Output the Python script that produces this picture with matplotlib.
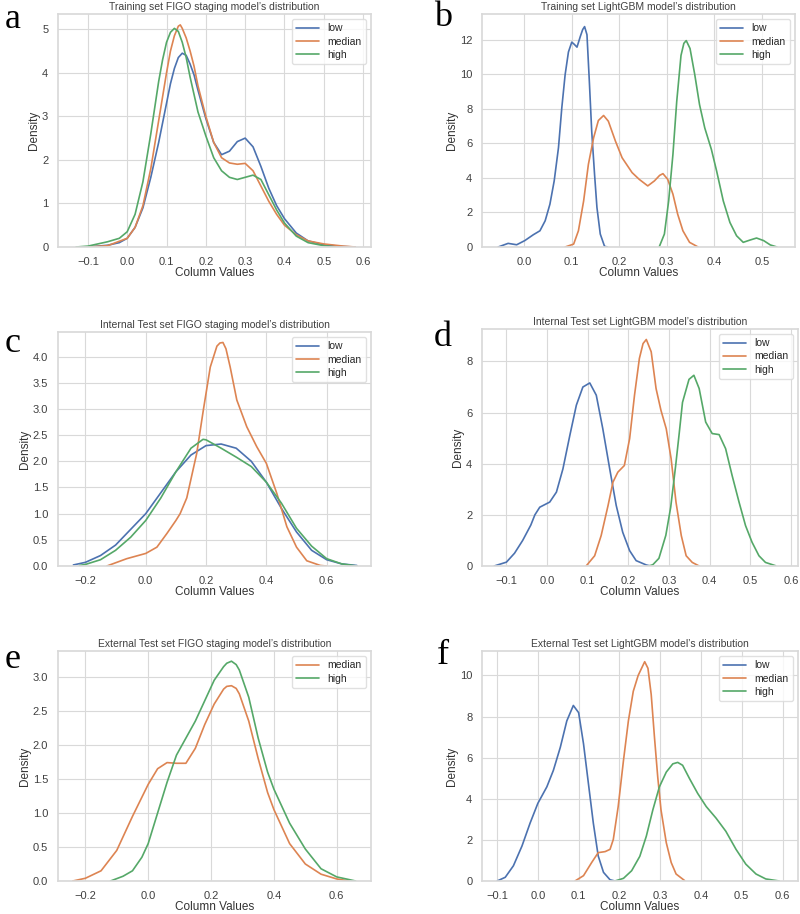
import matplotlib
matplotlib.use("Agg")
import matplotlib.pyplot as plt
import seaborn as sns

sns.set_theme(style="whitegrid", palette="deep")
plt.rcParams["font.family"] = ["Liberation Sans", "DejaVu Sans"]

BLUE, ORANGE, GREEN = sns.color_palette("deep")[:3]

# ---- a: Training set FIGO staging ----
A_LOW_X = [-0.10, -0.05, -0.02, 0.00, 0.02, 0.04, 0.06, 0.08, 0.10, 0.11, 0.12, 0.13, 0.14, 0.15,
           0.16, 0.17, 0.18, 0.20, 0.22, 0.24, 0.26, 0.28, 0.30, 0.32, 0.34, 0.36, 0.38, 0.40,
           0.43, 0.46, 0.50, 0.55, 0.58]
A_LOW_Y = [0.0, 0.04, 0.1, 0.2, 0.45, 0.9, 1.6, 2.4, 3.3, 3.75, 4.1, 4.35, 4.45, 4.4,
           4.2, 3.95, 3.6, 2.95, 2.4, 2.12, 2.2, 2.42, 2.5, 2.3, 1.85, 1.35, 0.95, 0.65,
           0.32, 0.14, 0.05, 0.01, 0.0]
A_MED_X = [-0.10, -0.05, 0.00, 0.02, 0.04, 0.06, 0.08, 0.10, 0.11, 0.12, 0.13, 0.135, 0.14, 0.15,
           0.16, 0.17, 0.18, 0.20, 0.22, 0.24, 0.26, 0.28, 0.30, 0.32, 0.34, 0.36, 0.38, 0.40,
           0.43, 0.46, 0.50, 0.55, 0.58]
A_MED_Y = [0.0, 0.03, 0.2, 0.45, 0.95, 1.8, 2.9, 4.0, 4.5, 4.85, 5.07, 5.1, 5.02, 4.8,
           4.5, 4.15, 3.7, 3.0, 2.4, 2.05, 1.93, 1.9, 1.92, 1.75, 1.4, 1.05, 0.75, 0.5,
           0.28, 0.14, 0.07, 0.02, 0.0]
A_HIGH_X = [-0.13, -0.10, -0.05, -0.02, 0.00, 0.02, 0.04, 0.06, 0.08, 0.09, 0.10, 0.11, 0.12, 0.13,
            0.14, 0.15, 0.16, 0.17, 0.18, 0.20, 0.22, 0.24, 0.26, 0.28, 0.30, 0.32, 0.34, 0.36,
            0.38, 0.40, 0.43, 0.46, 0.50, 0.53]
A_HIGH_Y = [0.0, 0.02, 0.12, 0.2, 0.35, 0.75, 1.5, 2.6, 3.8, 4.3, 4.7, 4.93, 5.02, 4.95,
            4.7, 4.35, 3.9, 3.5, 3.1, 2.55, 2.05, 1.75, 1.6, 1.55, 1.6, 1.65, 1.55, 1.2,
            0.85, 0.55, 0.25, 0.1, 0.03, 0.0]

# ---- b: Training set LightGBM ----
B_LOW_X = [-0.055, -0.034, -0.016, 0.001, 0.019, 0.033, 0.044, 0.054, 0.063, 0.072, 0.079, 0.086,
           0.093, 0.10, 0.105, 0.111, 0.118, 0.123, 0.127, 0.132, 0.137, 0.142, 0.148, 0.153,
           0.16, 0.169, 0.175]
B_LOW_Y = [0.0, 0.21, 0.13, 0.37, 0.71, 0.94, 1.52, 2.48, 3.83, 5.75, 8.06, 9.98,
           11.3, 11.87, 11.75, 11.58, 12.2, 12.6, 12.77, 12.3, 9.6, 6.7, 4.2, 2.29,
           0.75, 0.04, 0.0]
B_MED_X = [0.086, 0.104, 0.114, 0.125, 0.135, 0.146, 0.156, 0.167, 0.177, 0.192, 0.206, 0.227,
           0.242, 0.26, 0.274, 0.285, 0.292, 0.302, 0.313, 0.323, 0.334, 0.348, 0.366]
B_MED_Y = [0.0, 0.17, 0.94, 2.67, 4.79, 6.33, 7.33, 7.62, 7.29, 6.13, 5.17, 4.31,
           3.92, 3.54, 3.83, 4.15, 4.25, 3.92, 3.06, 1.9, 0.94, 0.27, 0.0]
B_HIGH_X = [0.284, 0.295, 0.304, 0.313, 0.321, 0.33, 0.336, 0.341, 0.349, 0.359, 0.369, 0.38,
            0.394, 0.405, 0.419, 0.433, 0.447, 0.461, 0.475, 0.489, 0.504, 0.518, 0.532]
B_HIGH_Y = [0.0, 0.75, 2.67, 5.37, 8.44, 11.1, 11.8, 11.96, 11.5, 9.98, 8.25, 6.9,
            5.65, 4.4, 2.67, 1.42, 0.65, 0.27, 0.4, 0.52, 0.37, 0.12, 0.0]

# ---- c: Internal Test set FIGO staging ----
C_LOW_X = [-0.24, -0.20, -0.15, -0.10, -0.05, 0.00, 0.05, 0.10, 0.15, 0.20, 0.25, 0.30, 0.35,
           0.40, 0.45, 0.50, 0.55, 0.60, 0.65, 0.70]
C_LOW_Y = [0.02, 0.07, 0.2, 0.4, 0.7, 1.0, 1.4, 1.8, 2.12, 2.3, 2.33, 2.25, 2.0,
           1.6, 1.1, 0.65, 0.3, 0.12, 0.04, 0.01]
C_MED_X = [-0.129, -0.063, 0.0, 0.037, 0.07, 0.10, 0.114, 0.136, 0.169, 0.191, 0.214, 0.236, 0.246,
           0.256, 0.266, 0.28, 0.302, 0.335, 0.368, 0.40, 0.435, 0.468, 0.50, 0.534, 0.579, 0.60]
C_MED_Y = [0.0, 0.14, 0.24, 0.36, 0.62, 0.87, 1.0, 1.3, 2.15, 2.98, 3.8, 4.2, 4.26,
           4.27, 4.15, 3.8, 3.17, 2.66, 2.28, 1.96, 1.38, 0.75, 0.36, 0.1, 0.01, 0.0]
C_HIGH_X = [-0.22, -0.20, -0.15, -0.10, -0.05, 0.00, 0.05, 0.10, 0.15, 0.19, 0.20, 0.25, 0.30,
            0.35, 0.40, 0.45, 0.50, 0.55, 0.60, 0.65, 0.70]
C_HIGH_Y = [0.01, 0.03, 0.12, 0.3, 0.55, 0.87, 1.3, 1.8, 2.25, 2.42, 2.41, 2.25, 2.08,
            1.9, 1.6, 1.2, 0.72, 0.38, 0.14, 0.04, 0.0]

# ---- d: Internal Test set LightGBM ----
D_LOW_X = [-0.13, -0.10, -0.08, -0.06, -0.04, -0.03, -0.018, 0.0065, 0.023, 0.039, 0.056, 0.072,
           0.088, 0.105, 0.121, 0.137, 0.154, 0.17, 0.186, 0.203, 0.219, 0.244, 0.255]
D_LOW_Y = [0.0, 0.15, 0.5, 1.0, 1.6, 2.0, 2.3, 2.5, 2.89, 3.8, 5.11, 6.29,
           7.0, 7.16, 6.68, 5.37, 3.8, 2.37, 1.32, 0.6, 0.21, 0.04, 0.0]
D_MED_X = [0.096, 0.117, 0.133, 0.15, 0.162, 0.174, 0.19, 0.203, 0.215, 0.227, 0.236, 0.244,
           0.256, 0.268, 0.28, 0.293, 0.305, 0.317, 0.33, 0.342, 0.357, 0.374]
D_MED_Y = [0.0, 0.4, 1.19, 2.37, 3.28, 3.67, 3.93, 4.98, 6.68, 8.12, 8.7, 8.86,
           8.38, 6.94, 6.09, 5.37, 4.2, 2.5, 1.19, 0.4, 0.14, 0.0]
D_HIGH_X = [0.25, 0.26, 0.275, 0.292, 0.304, 0.316, 0.325, 0.333, 0.349, 0.361, 0.374, 0.39,
            0.406, 0.423, 0.439, 0.455, 0.472, 0.488, 0.504, 0.521, 0.537, 0.562]
D_HIGH_Y = [0.0, 0.05, 0.3, 1.2, 2.3, 3.9, 5.2, 6.4, 7.3, 7.46, 6.94, 5.63,
            5.18, 5.14, 4.59, 3.54, 2.5, 1.58, 0.93, 0.4, 0.14, 0.01]

# ---- e: External Test set FIGO staging ----
E_MED_X = [-0.24, -0.20, -0.15, -0.10, -0.05, 0.00, 0.03, 0.06, 0.09, 0.12, 0.15, 0.18, 0.21,
           0.24, 0.25, 0.265, 0.28, 0.29, 0.32, 0.35, 0.38, 0.40, 0.45, 0.50, 0.55, 0.60, 0.64]
E_MED_Y = [0.0, 0.04, 0.15, 0.45, 0.95, 1.42, 1.65, 1.74, 1.73, 1.73, 1.95, 2.3, 2.6,
           2.82, 2.86, 2.87, 2.83, 2.75, 2.35, 1.8, 1.3, 1.05, 0.55, 0.25, 0.1, 0.03, 0.0]
E_HIGH_X = [-0.12, -0.08, -0.05, -0.02, 0.00, 0.03, 0.06, 0.09, 0.12, 0.15, 0.18, 0.21, 0.24,
            0.25, 0.265, 0.28, 0.29, 0.32, 0.35, 0.38, 0.40, 0.45, 0.50, 0.55, 0.60, 0.66]
E_HIGH_Y = [0.0, 0.07, 0.15, 0.35, 0.55, 1.0, 1.45, 1.85, 2.1, 2.35, 2.65, 2.95, 3.15,
            3.2, 3.23, 3.18, 3.1, 2.7, 2.1, 1.6, 1.35, 0.85, 0.47, 0.18, 0.06, 0.0]

# ---- f: External Test set LightGBM ----
F_LOW_X = [-0.10, -0.08, -0.06, -0.039, -0.019, 0.0, 0.022, 0.038, 0.055, 0.071, 0.087, 0.1,
           0.112, 0.124, 0.136, 0.148, 0.161, 0.177, 0.189]
F_LOW_Y = [0.0, 0.18, 0.74, 1.7, 2.82, 3.78, 4.58, 5.38, 6.5, 7.79, 8.54, 8.19,
           6.67, 4.74, 2.82, 1.22, 0.42, 0.06, 0.0]
F_MED_X = [0.091, 0.112, 0.132, 0.148, 0.165, 0.177, 0.185, 0.197, 0.21, 0.222, 0.234, 0.246,
           0.262, 0.27, 0.278, 0.286, 0.294, 0.302, 0.315, 0.327, 0.339, 0.36]
F_MED_Y = [0.0, 0.26, 0.9, 1.38, 1.43, 1.54, 2.02, 3.62, 5.87, 7.79, 9.23, 10.0,
           10.67, 10.35, 9.07, 6.99, 5.06, 3.46, 1.86, 0.9, 0.34, 0.02]
F_HIGH_X = [0.189, 0.21, 0.23, 0.25, 0.266, 0.282, 0.298, 0.315, 0.331, 0.343, 0.355, 0.372,
            0.392, 0.413, 0.437, 0.461, 0.486, 0.51, 0.535, 0.559, 0.592]
F_HIGH_Y = [0.0, 0.13, 0.5, 1.2, 2.18, 3.46, 4.58, 5.3, 5.7, 5.77, 5.63, 4.98,
            4.26, 3.62, 3.06, 2.42, 1.54, 0.82, 0.34, 0.1, 0.0]

TITLES = [
    "Training set FIGO staging model\u2019s distribution",
    "Training set LightGBM model\u2019s distribution",
    "Internal Test set FIGO staging model\u2019s distribution",
    "Internal Test set LightGBM model\u2019s distribution",
    "External Test set FIGO staging model\u2019s distribution",
    "External Test set LightGBM model\u2019s distribution",
]
LETTERS = ["a", "b", "c", "d", "e", "f"]

W, H = 800, 914
fig = plt.figure(figsize=(W / 100, H / 100), dpi=100)


def px_axes(left, top, right, bottom):
    return fig.add_axes([left / W, 1 - bottom / H, (right - left) / W, (bottom - top) / H])


panels = [
    # (axes box px, xlim, ylim, xticks, yticks, curves)
    ((58, 14, 371, 247), (-0.176, 0.62), (0, 5.35), [-0.1, 0, 0.1, 0.2, 0.3, 0.4, 0.5, 0.6], [0, 1, 2, 3, 4, 5],
     [("low", A_LOW_X, A_LOW_Y, BLUE), ("median", A_MED_X, A_MED_Y, ORANGE), ("high", A_HIGH_X, A_HIGH_Y, GREEN)]),
    ((482, 14, 795, 247), (-0.089, 0.57), (0, 13.5), [0, 0.1, 0.2, 0.3, 0.4, 0.5], [0, 2, 4, 6, 8, 10, 12],
     [("low", B_LOW_X, B_LOW_Y, BLUE), ("median", B_MED_X, B_MED_Y, ORANGE), ("high", B_HIGH_X, B_HIGH_Y, GREEN)]),
    ((58, 332, 371, 566), (-0.291, 0.747), (0, 4.47), [-0.2, 0, 0.2, 0.4, 0.6], [0, 0.5, 1, 1.5, 2, 2.5, 3, 3.5, 4],
     [("low", C_LOW_X, C_LOW_Y, BLUE), ("median", C_MED_X, C_MED_Y, ORANGE), ("high", C_HIGH_X, C_HIGH_Y, GREEN)]),
    ((482, 329, 798, 566), (-0.16, 0.617), (0, 9.27), [-0.1, 0, 0.1, 0.2, 0.3, 0.4, 0.5, 0.6], [0, 2, 4, 6, 8],
     [("low", D_LOW_X, D_LOW_Y, BLUE), ("median", D_MED_X, D_MED_Y, ORANGE), ("high", D_HIGH_X, D_HIGH_Y, GREEN)]),
    ((58, 651, 371, 881), (-0.287, 0.709), (0, 3.38), [-0.2, 0, 0.2, 0.4, 0.6], [0, 0.5, 1, 1.5, 2, 2.5, 3],
     [("median", E_MED_X, E_MED_Y, ORANGE), ("high", E_HIGH_X, E_HIGH_Y, GREEN)]),
    ((482, 651, 798, 881), (-0.137, 0.638), (0, 11.19), [-0.1, 0, 0.1, 0.2, 0.3, 0.4, 0.5, 0.6], [0, 2, 4, 6, 8, 10],
     [("low", F_LOW_X, F_LOW_Y, BLUE), ("median", F_MED_X, F_MED_Y, ORANGE), ("high", F_HIGH_X, F_HIGH_Y, GREEN)]),
]

letter_pos = [(13, 20), (443, 18), (13, 343), (443, 338), (13, 660), (443, 655)]

for (box, xlim, ylim, xt, yt, curves), title, letter, (lx, ly) in zip(panels, TITLES, LETTERS, letter_pos):
    ax = px_axes(*box)
    for name, xs, ys, col in curves:
        ax.plot(xs, ys, color=col, lw=1.2, label=name, solid_joinstyle="round")
    ax.set_xlim(*xlim)
    ax.set_ylim(*ylim)
    ax.set_xticks(xt)
    ax.set_yticks(yt)
    if any(v % 1 for v in yt):
        ax.set_yticklabels([f"{v:.1f}" for v in yt])
    ax.set_xticklabels([f"{v:.1f}".replace("-", "\u2212") for v in xt])
    ax.tick_params(labelsize=8, pad=1, colors=".25")
    ax.set_xlabel("Column Values", fontsize=8.5, labelpad=0, color=".2")
    ax.set_ylabel("Density", fontsize=8.5, labelpad=1.5, color=".2")
    ax.set_title(title, fontsize=7.5, pad=3, color=".25")
    ax.grid(True, color=".85", lw=0.8)
    for sp in ax.spines.values():
        sp.set_color(".85")
    ax.legend(loc="upper right", fontsize=7.5, frameon=True, edgecolor=".85",
              fancybox=True, borderpad=0.4, labelspacing=0.3, handlelength=2.2)
    fig.text(lx / W, 1 - ly / H, letter, family="Liberation Serif", fontsize=26,
             ha="center", va="center", color="black")

fig.savefig("out.png", dpi=100)
